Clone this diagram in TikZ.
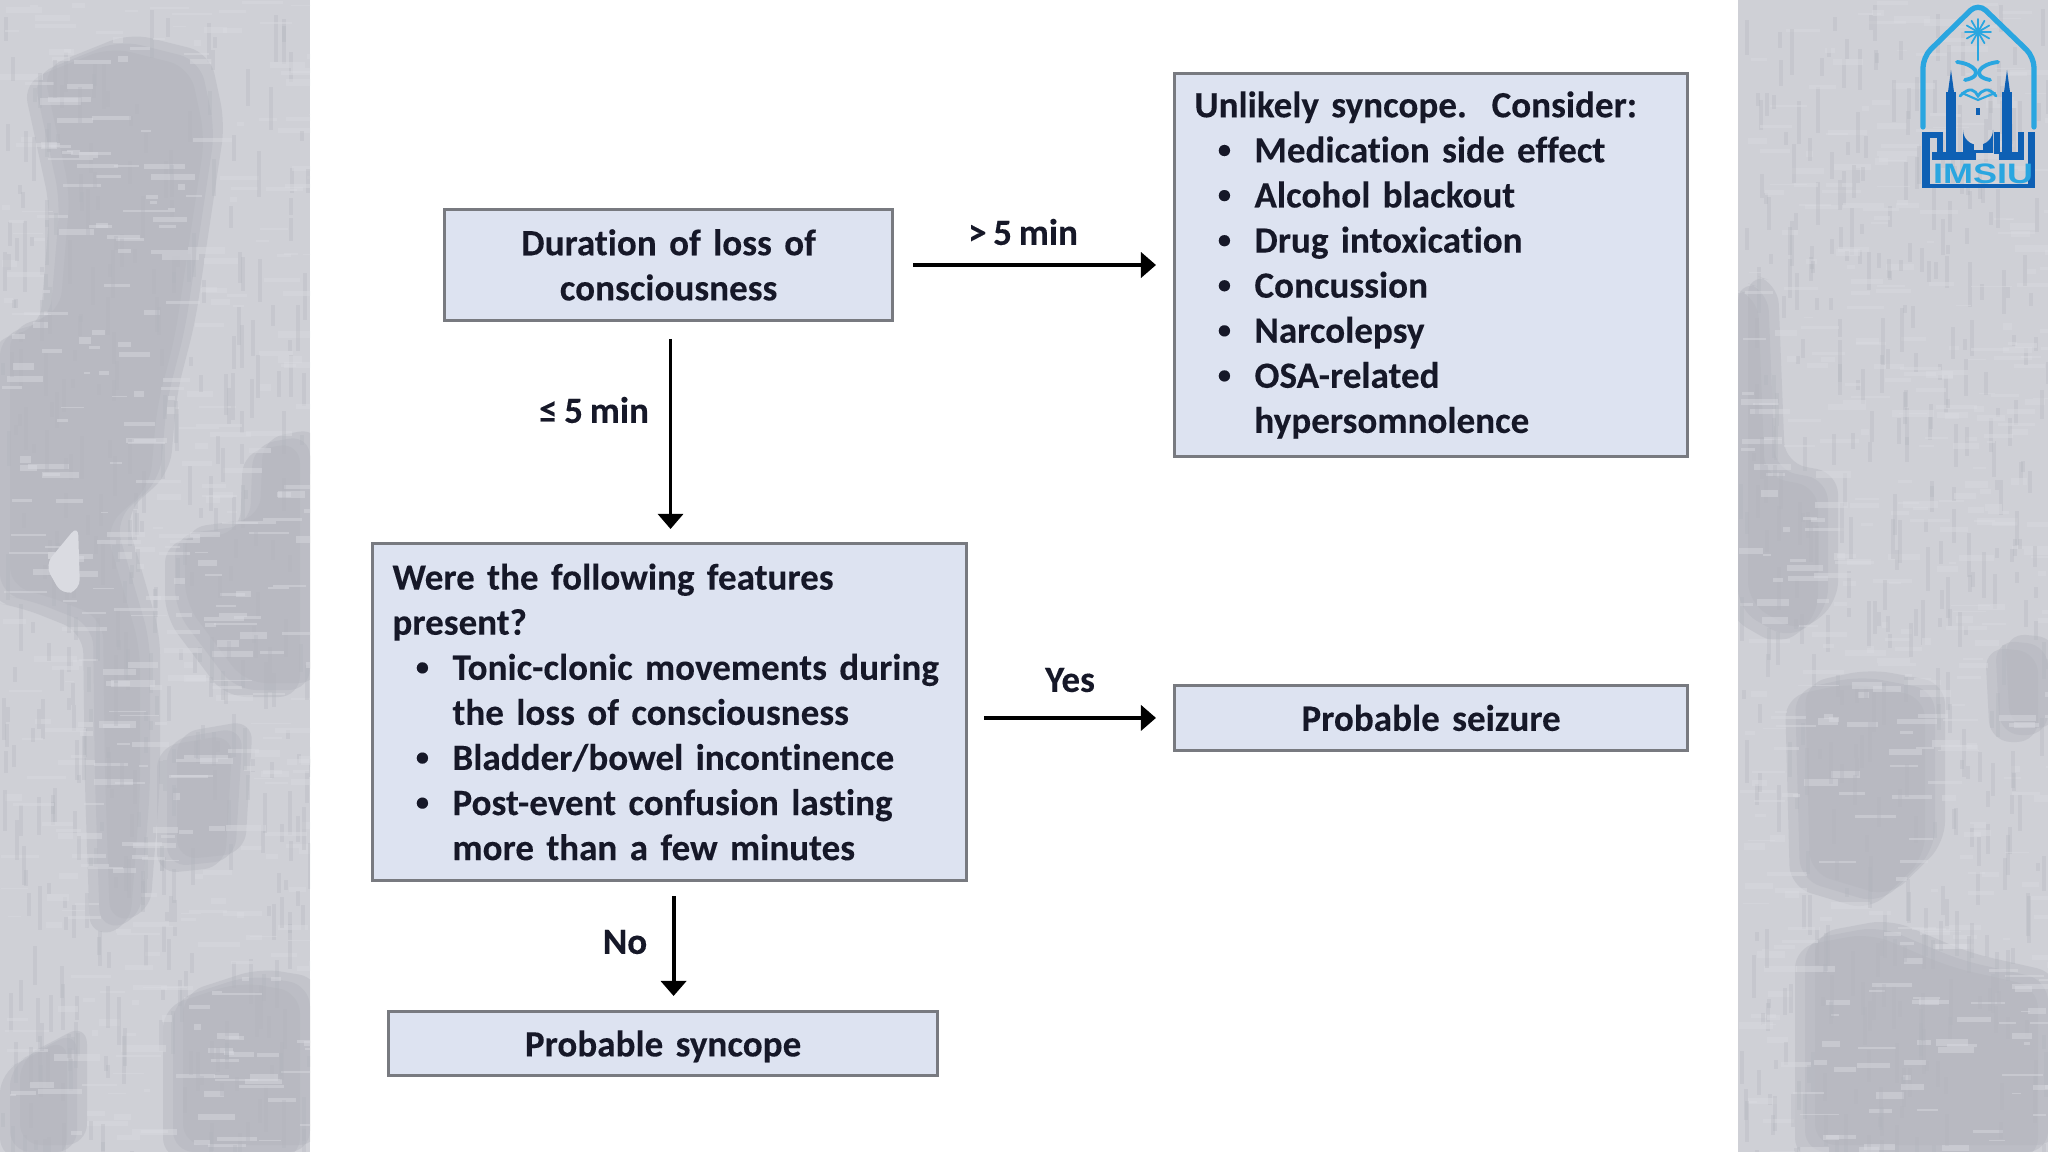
\documentclass[tikz,border=0pt]{standalone}
\usepackage{fontspec}
\setmainfont[Ligatures={NoCommon},FakeBold=0.15,WordSpace=0.8]{Carlito}
\newfontfamily\logofont{Liberation Sans}
\usepackage{tikz}
\usetikzlibrary{arrows.meta,calc}
\definecolor{panelbase}{RGB}{207,208,214}
\definecolor{paneldark}{RGB}{178,180,188}
\definecolor{panellight}{RGB}{218,219,225}
\definecolor{boxfill}{RGB}{221,227,241}
\definecolor{boxedge}{RGB}{120,122,128}
\definecolor{inkdark}{RGB}{22,24,40}
\definecolor{logosky}{RGB}{42,166,224}
\definecolor{logoblue}{RGB}{14,96,180}
\newcommand{\bodytext}{\fontsize{10.55}{12.82}\selectfont\bfseries}
\newcommand{\bul}[1]{\hspace*{0.3cm}\makebox[0cm]{\raisebox{0.25ex}{\fontsize{7.5}{8}\selectfont •}}\hspace*{0.3cm}\mbox{#1}}
\newcommand{\cont}[1]{\hspace*{0.6cm}\mbox{#1}}
% dark patches of the two side panels
\newcommand{\patchesL}{
  (33,75)--(120,40)--(200,60)--(215,130)--(200,230)--(185,330)--(167,400)--(160,480)--(115,520)--(150,640)--(150,790)--(140,920)--(100,930)--(95,780)--(93,625)--(30,600)--(0,595)--(0,335)--(50,320)--(60,200)--cycle
  (253,445)--(310,435)--(310,690)--(235,690)--(175,610)--(175,535)--(250,525)--cycle
  (167,740)--(243,727)--(235,860)--(167,867)--cycle
  (173,1000)--(250,975)--(310,985)--(310,1152)--(173,1152)--cycle
  (10,1065)--(40,1050)--(77,1030)--(77,1152)--(10,1152)--cycle}
\newcommand{\patchesR}{
  (1738,280)--(1768,290)--(1775,470)--(1828,480)--(1828,610)--(1790,640)--(1738,610)--cycle
  (1795,690)--(1860,676)--(1935,690)--(1935,850)--(1880,904)--(1800,880)--cycle
  (1805,940)--(1880,926)--(1960,960)--(2048,980)--(2048,1152)--(1805,1152)--cycle
  (1995,640)--(2048,645)--(2048,735)--(2000,735)--cycle}
\tikzset{
  flowbox/.style={draw=boxedge,fill=boxfill,line width=0.8pt,anchor=north west,inner sep=0pt,
    inner xsep=0.2cm,font=\bodytext,text=inkdark,align=left},
  midbox/.style={flowbox,align=center},
  flowlabel/.style={font=\bodytext,text=inkdark,inner sep=0pt},
  flowarrow/.style={draw=black,line width=1.1pt,-{Triangle[length=0.15cm,width=0.25cm]}},
  logostroke/.style={draw=logosky,line width=1.1pt,line cap=round}
}
\begin{document}
\begin{tikzpicture}[x=0.01cm,y=-0.01cm]
  \useasboundingbox (0,0) rectangle (2048,1152);
  \fill[white] (0,0) rectangle (2048,1152);
  % left panel
  \begin{scope}
    \clip (0,0) rectangle (310,1152);
    \fill[panelbase] (0,0) rectangle (310,1152);
    \foreach \sft in {(-10,7),(0,0),(10,-7)}
      \fill[paneldark,opacity=.4,rounded corners=6pt,shift={\sft}] \patchesL;
    \pgfmathsetseed{11}
    \foreach \i in {1,...,420}{
      \pgfmathsetmacro{\sx}{rnd*310}
      \pgfmathsetmacro{\sy}{rnd*1152}
      \pgfmathsetmacro{\sw}{6+rnd*40}
      \pgfmathsetmacro{\sh}{1+rnd*6}
      \fill[panellight,opacity=.45] (\sx,\sy) rectangle ++(\sw,\sh);
      \pgfmathsetmacro{\tx}{rnd*310}
      \pgfmathsetmacro{\ty}{rnd*1152}
      \pgfmathsetmacro{\tl}{8+rnd*40}
      \fill[paneldark,opacity=.3] (\tx,\ty) rectangle ++(4,\tl);
    }
    \fill[panellight,rounded corners=3pt] (78,525)--(80,590)--(62,595)--(45,565)--cycle;
  \end{scope}
  % right panel
  \begin{scope}
    \clip (1738,0) rectangle (2048,1152);
    \fill[panelbase] (1738,0) rectangle (2048,1152);
    \foreach \sft in {(-10,7),(0,0),(10,-7)}
      \fill[paneldark,opacity=.4,rounded corners=6pt,shift={\sft}] \patchesR;
    \pgfmathsetseed{23}
    \foreach \i in {1,...,420}{
      \pgfmathsetmacro{\sx}{1738+rnd*310}
      \pgfmathsetmacro{\sy}{rnd*1152}
      \pgfmathsetmacro{\sw}{6+rnd*36}
      \pgfmathsetmacro{\sh}{1+rnd*6}
      \fill[panellight,opacity=.45] (\sx,\sy) rectangle ++(\sw,\sh);
      \pgfmathsetmacro{\tx}{1738+rnd*310}
      \pgfmathsetmacro{\ty}{rnd*1152}
      \pgfmathsetmacro{\tl}{8+rnd*40}
      \fill[paneldark,opacity=.3] (\tx,\ty) rectangle ++(4,\tl);
    }
  \end{scope}
  % boxes
  \node[midbox,minimum width=4.48cm,minimum height=1.11cm,text width=4.08cm] (duration) at (443,208)
    {Duration of loss of\\consciousness};
  \node[flowbox,minimum width=5.13cm,minimum height=3.83cm,text width=4.73cm] (unlikely) at (1173,72)
    {Unlikely syncope.\ \ Consider:\\\bul{Medication side effect}\\\bul{Alcohol blackout}\\\bul{Drug intoxication}\\\bul{Concussion}\\\bul{Narcolepsy}\\\bul{OSA-related}\\\cont{hypersomnolence}};
  \node[flowbox,minimum width=5.94cm,minimum height=3.37cm,text width=5.54cm] (features) at (371,542)
    {Were the following features\\present?\\\bul{Tonic-clonic movements during}\\\cont{the loss of consciousness}\\\bul{Bladder/bowel incontinence}\\\bul{Post-event confusion lasting}\\\cont{more than a few minutes}};
  \node[midbox,minimum width=5.13cm,minimum height=0.65cm,text width=4.73cm] (seizure) at (1173,684)
    {Probable seizure};
  \node[midbox,minimum width=5.49cm,minimum height=0.64cm,text width=5.09cm,text depth=0pt] (syncope) at (387,1010)
    {Probable syncope};
  % connectors
  \coordinate (durationfoot) at ($(duration.south)+(2,0)$);
  \coordinate (featuresfoot) at ($(features.south)+(4,0)$);
  \draw[flowarrow,shorten <=0.19cm,shorten >=0.17cm] (duration.east) -- (unlikely.west);
  \draw[flowarrow,line width=0.85pt,shorten <=0.17cm,shorten >=0.13cm] (durationfoot) -- (durationfoot |- features.north);
  \draw[flowarrow,shorten <=0.16cm,shorten >=0.17cm] (features.east |- seizure.west) -- (seizure.west);
  \draw[flowarrow,shorten <=0.14cm,shorten >=0.14cm] (featuresfoot) -- (featuresfoot |- syncope.north);
  % labels
  \node[flowlabel] (longlabel) at (1023,232) {> 5 min};
  \node[flowlabel] (shortlabel) at (594,410) {≤ 5 min};
  \node[flowlabel] (yeslabel) at (1070,680) {Yes};
  \node[flowlabel] (nolabel) at (625,942) {No};
  % logo
  \draw[logostroke,line width=1.5pt,rounded corners=3pt,line join=round] (1923,127) -- (1923,57) -- (1978,3) -- (2034,57) -- (2034,127);
  \foreach \a in {0,30,...,330}
    \draw[logostroke,line width=0.5pt] (1978,32) -- ++(\a:13);
  \draw[logostroke,line width=0.8pt] (1978,34) -- (1978,60);
  \draw[logostroke] (1957,62) .. controls (1975,64) and (1985,76) .. (1965,80);
  \draw[logostroke] (1998,62) .. controls (1980,64) and (1970,76) .. (1990,80);
  \draw[logostroke,line width=0.8pt] (1960,96) .. controls (1970,86) and (1975,90) .. (1978,96) .. controls (1982,90) and (1988,86) .. (1996,96);
  \draw[logostroke,line width=0.6pt] (1962,93) -- (1978,100) -- (1995,93);
  \foreach \bx/\by/\bw/\bh in {1922/132/8/56,1922/132/21/6,1937/132/6/21,1932/152/44/8,1946/92/10/68,1999/152/25/8,2002/92/10/68,1994/132/6/22,2018/132/6/28,2028/132/7/56,1927/184/108/4}
    \fill[logoblue] (\bx,\by) rectangle ++(\bw,\bh);
  \fill[logoblue] (1948,92) -- (1951,70) -- (1954,92) -- cycle;
  \fill[logoblue] (2004,92) -- (2007,70) -- (2010,92) -- cycle;
  \fill[logoblue] (1963,130) arc[start angle=180,end angle=0,x radius=15,y radius=15] -- (1993,153) -- (1963,153) -- cycle;
  \fill[logoblue] (1976,115) rectangle (1980,108);
  \fill[panelbase] (1974,139) rectangle (1983,150);
  \node[inner sep=0pt,xscale=1.28,text=logosky,font=\logofont\bfseries\fontsize{8}{8}\selectfont] (logotext) at (1983,174) {IMSIU};
\end{tikzpicture}
\end{document}
